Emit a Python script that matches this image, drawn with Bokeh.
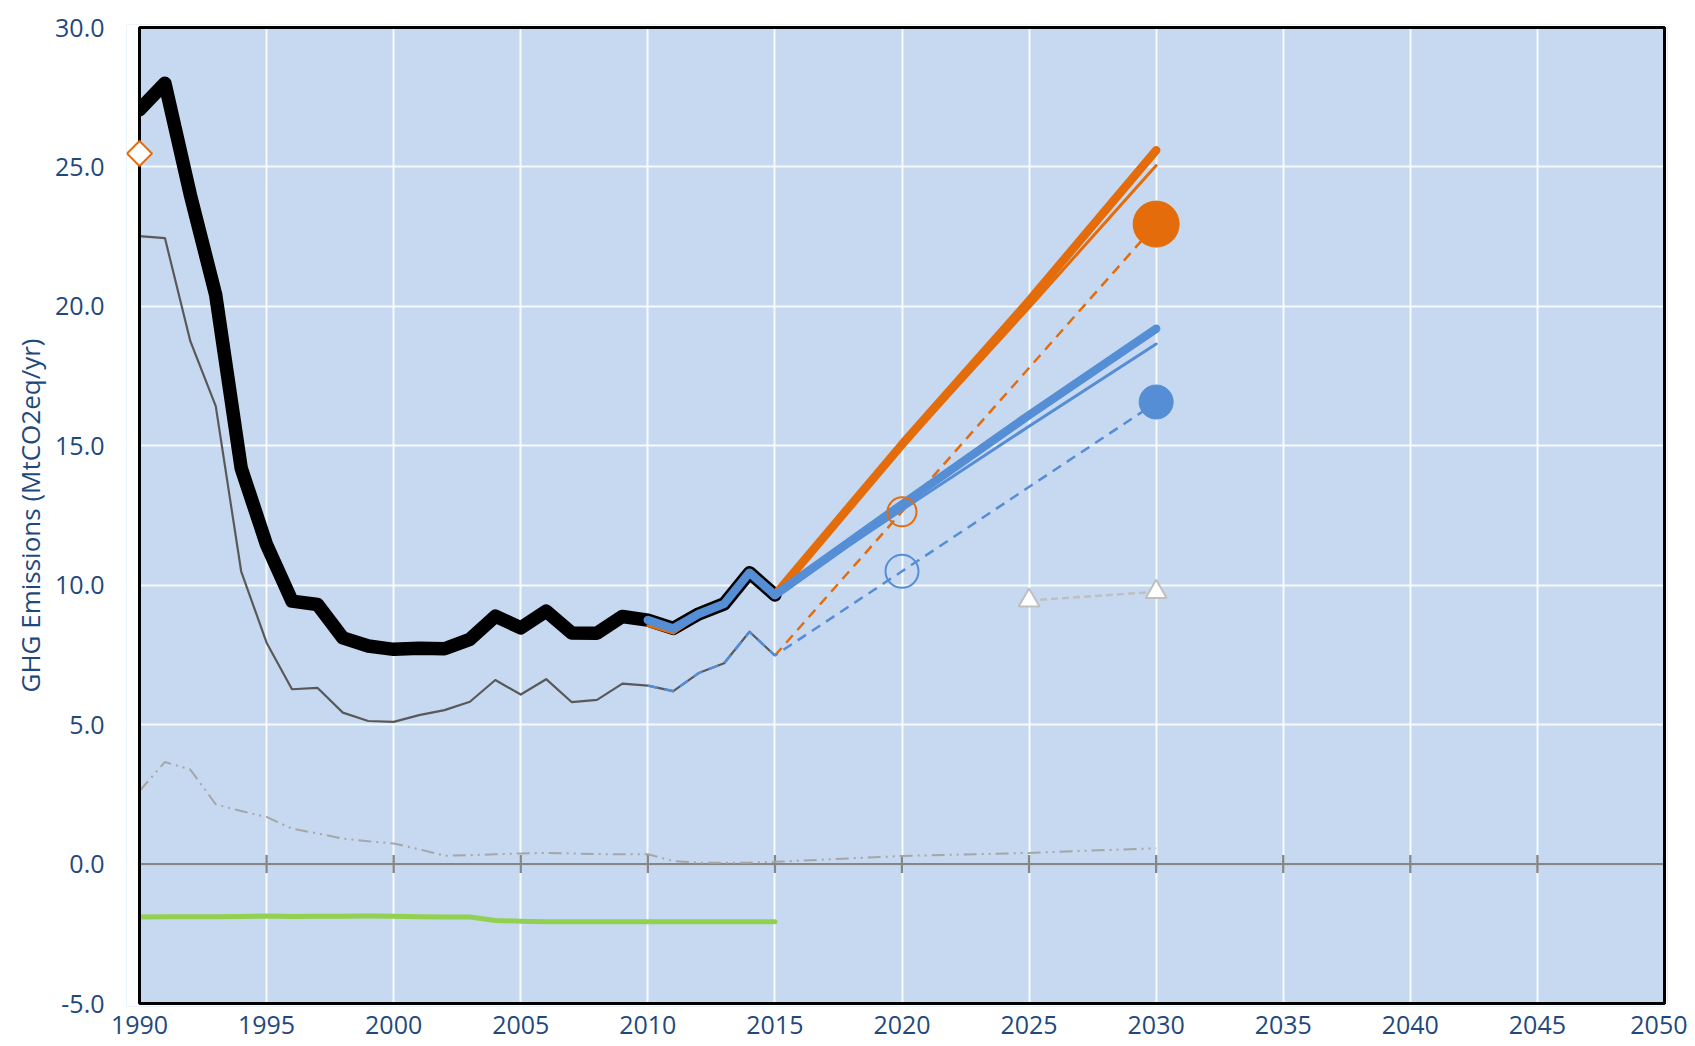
import math
from bokeh.plotting import figure
from bokeh.models import FixedTicker, PrintfTickFormatter, PolyAnnotation, BoxAnnotation
from bokeh.embed import file_html
from bokeh.resources import INLINE

# ---------------- data ----------------
x_ticks = [1990, 1995, 2000, 2005, 2010, 2015, 2020, 2025, 2030, 2035, 2040, 2045, 2050]
y_ticks = [-5, 0, 5, 10, 15, 20, 25, 30]

years_hist = list(range(1990, 2016))
total_hist = [27.05, 28.0, 24.0, 20.4, 14.2, 11.45, 9.43, 9.31, 8.11, 7.82, 7.70, 7.74, 7.72,
              8.06, 8.89, 8.47, 9.07, 8.29, 8.28, 8.88, 8.75, 8.45, 8.97, 9.33, 10.45, 9.65]
co2_hist = [22.52, 22.45, 18.75, 16.42, 10.5, 7.94, 6.27, 6.32, 5.43, 5.13, 5.10, 5.34, 5.52,
            5.82, 6.60, 6.08, 6.63, 5.81, 5.89, 6.47, 6.40, 6.20, 6.85, 7.20, 8.33, 7.48]
lulucf_hist = [-1.90, -1.89, -1.89, -1.89, -1.88, -1.86, -1.88, -1.87, -1.87, -1.86, -1.87, -1.89, -1.90,
               -1.90, -2.02, -2.05, -2.07, -2.07, -2.07, -2.07, -2.07, -2.07, -2.07, -2.07, -2.07, -2.07]

other_years = years_hist + [2020, 2025, 2030]
other_vals = [2.62, 3.66, 3.39, 2.14, 1.90, 1.69, 1.27, 1.10, 0.91, 0.82, 0.74, 0.53, 0.30,
              0.32, 0.35, 0.38, 0.40, 0.38, 0.36, 0.35, 0.35, 0.11, 0.05, 0.05, 0.05, 0.08,
              0.29, 0.40, 0.57]

blue_thick_years = [2010, 2011, 2012, 2013, 2014, 2015, 2020, 2025, 2030]
blue_thick_vals = [8.75, 8.45, 8.97, 9.33, 10.45, 9.65, 12.9, 16.1, 19.2]
blue_thin_years = [2015, 2020, 2025, 2030]
blue_thin_vals = [9.65, 12.7, 15.7, 18.65]
orange_thick_years = [2015, 2020, 2025, 2030]
orange_thick_vals = [9.65, 15.05, 20.2, 25.6]
orange_thin_years = [2010, 2011, 2012, 2013, 2014, 2015, 2020, 2025, 2030]
orange_thin_vals = [8.55, 8.28, 8.9, 9.3, 10.4, 9.65, 14.95, 19.95, 25.05]
blue_dash_years = [2010, 2011, 2012, 2013, 2014, 2015, 2020, 2030]
blue_dash_vals = [6.40, 6.20, 6.85, 7.20, 8.33, 7.48, 10.5, 16.55]
orange_dash_years = [2015, 2020, 2030]
orange_dash_vals = [7.48, 12.64, 22.95]

orange_target_year, orange_target_val = [2030], [22.95]
blue_target_year, blue_target_val = [2030], [16.57]
orange_2020_year, orange_2020_val = [2020], [12.63]
blue_2020_year, blue_2020_val = [2020], [10.5]
base_year, base_val = [1990], [25.48]
tri_years, tri_vals = [2025, 2030], [9.45, 9.76]

# ---------------- colours / layout ----------------
ORANGE = "#E46C0A"
BLUE = "#558ED5"
GREEN = "#92D050"
DGRAY = "#595959"
LGRAY = "#A6A6A6"
TRIGRAY = "#BFBFBF"
AXGRAY = "#868686"
TXT = "#1F497D"
FONT = "Open Sans"

X0, X1, Y0, Y1 = x_ticks[0], x_ticks[-1], y_ticks[0], y_ticks[-1]
CHART_W, CHART_H = 1525, 976            # pixel size of the chart area
PPX = CHART_W / (X1 - X0)               # px per year
PPY = CHART_H / (Y1 - Y0)               # px per unit
# padding (px) around the chart area so border and base-year marker are not clipped
PADL, PADR, PADT, PADB = 13, 3, 3, 3

p = figure(frame_width=CHART_W + PADL + PADR, frame_height=CHART_H + PADT + PADB,
           x_range=(X0 - PADL / PPX, X1 + PADR / PPX),
           y_range=(Y0 - PADB / PPY, Y1 + PADT / PPY),
           output_backend="svg", toolbar_location=None,
           min_border_left=139 - PADL, min_border_right=23 - PADR,
           min_border_top=27 - PADT, min_border_bottom=38,
           background_fill_color="#C6D9F0", border_fill_color="white",
           outline_line_color=None)

# axes
p.xaxis.ticker = FixedTicker(ticks=x_ticks)
p.yaxis.ticker = FixedTicker(ticks=y_ticks)
p.yaxis.formatter = PrintfTickFormatter(format="%.1f")
for ax in (p.xaxis, p.yaxis):
    ax.axis_line_color = None
    ax.major_tick_line_color = None
    ax.minor_tick_line_color = None
    ax.major_label_text_font = FONT
    ax.major_label_text_font_size = "25px"
    ax.major_label_text_color = TXT
p.xaxis.major_label_standoff = 3
p.yaxis.major_label_standoff = 16
p.yaxis.axis_label = "GHG Emissions (MtCO2eq/yr)"
p.yaxis.axis_label_text_font = FONT
p.yaxis.axis_label_text_font_size = "26px"
p.yaxis.axis_label_text_font_style = "normal"
p.yaxis.axis_label_text_color = TXT
p.yaxis.axis_label_standoff = 4

# grid
p.xgrid.grid_line_color = "white"
p.ygrid.grid_line_color = "white"
p.xgrid.grid_line_width = 2
p.ygrid.grid_line_width = 2
p.xgrid.grid_line_alpha = 0.85
p.ygrid.grid_line_alpha = 0.85

# zero axis line with crossing ticks
p.line([X0, X1], [0, 0], line_color=AXGRAY, line_width=2.3)
p.scatter(x_ticks, [0] * len(x_ticks), marker="dash", angle=math.pi / 2, size=18,
          line_color=AXGRAY, line_width=2.3)

# series
p.line(other_years, other_vals, line_color=LGRAY, line_width=2, line_dash="13 5 2 5 2 5")
p.line(years_hist, lulucf_hist, line_color=GREEN, line_width=5, line_join="round", line_cap="round")
p.line(years_hist, co2_hist, line_color=DGRAY, line_width=2.2, line_join="round")
p.line(orange_dash_years, orange_dash_vals, line_color=ORANGE, line_width=2.5, line_dash="10 7")
p.line(blue_dash_years, blue_dash_vals, line_color=BLUE, line_width=2.5, line_dash="10 7")
p.line(years_hist, total_hist, line_color="black", line_width=13.5, line_join="round", line_cap="round")
p.line(orange_thin_years, orange_thin_vals, line_color=ORANGE, line_width=3, line_join="round", line_cap="round")
p.line(orange_thick_years, orange_thick_vals, line_color=ORANGE, line_width=8.5, line_join="round", line_cap="round")
p.line(blue_thin_years, blue_thin_vals, line_color=BLUE, line_width=3, line_join="round", line_cap="round")
p.line(blue_thick_years, blue_thick_vals, line_color=BLUE, line_width=8.5, line_join="round", line_cap="round")

p.line(tri_years, tri_vals, line_color=TRIGRAY, line_width=2.5, line_dash="7 4")
p.scatter(tri_years, tri_vals, marker="triangle", size=21, fill_color="white",
          line_color=TRIGRAY, line_width=2)

p.scatter(orange_target_year, orange_target_val, marker="circle", size=46, fill_color=ORANGE, line_color=ORANGE)
p.scatter(blue_target_year, blue_target_val, marker="circle", size=34, fill_color=BLUE, line_color=BLUE)
p.scatter(orange_2020_year, orange_2020_val, marker="circle", size=29, fill_color=None,
          line_color=ORANGE, line_width=2)
p.scatter(blue_2020_year, blue_2020_val, marker="circle", size=33, fill_color=None,
          line_color=BLUE, line_width=2)

# white padding strips outside the chart area
for kw in (dict(right=X0), dict(left=X1), dict(bottom=Y1), dict(top=Y0)):
    p.add_layout(BoxAnnotation(fill_color="white", fill_alpha=1.0, line_color=None,
                               level="annotation", **kw))
# chart border
p.add_layout(PolyAnnotation(xs=[X0, X1, X1, X0], ys=[Y0, Y0, Y1, Y1],
                            fill_color=None, fill_alpha=0.0, line_color="black", line_alpha=1.0,
                            line_width=3, level="overlay"))

# 1990 base-year marker: open diamond
half_px = 12.5
dx = half_px / PPX
dy = half_px / PPY
bx, by = base_year[0], base_val[0]
p.add_layout(PolyAnnotation(xs=[bx - dx, bx, bx + dx, bx], ys=[by, by + dy, by, by - dy],
                            fill_color="white", fill_alpha=1.0, line_color=ORANGE, line_alpha=1.0,
                            line_width=2, level="overlay"))

open("out.html", "w").write(file_html(p, INLINE))
